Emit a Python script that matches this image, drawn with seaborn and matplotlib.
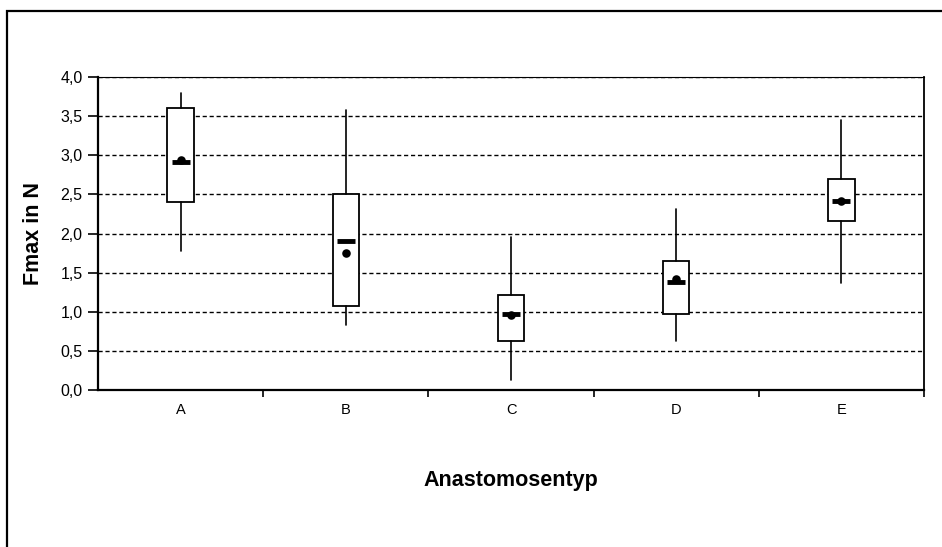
import matplotlib
matplotlib.use("Agg")
import matplotlib.pyplot as plt
import matplotlib.patches as mpatches
import pandas as pd
import seaborn as sns
from matplotlib.ticker import FixedLocator, FuncFormatter

# values
categories = ["A", "B", "C", "D", "E"]
whisker_low = [1.78, 0.83, 0.13, 0.62, 1.37]
box_low = [2.40, 1.07, 0.63, 0.97, 2.16]
median = [2.92, 1.90, 0.97, 1.38, 2.42]
mean = [2.94, 1.75, 0.96, 1.42, 2.42]
box_high = [3.60, 2.50, 1.22, 1.65, 2.70]
whisker_high = [3.80, 3.58, 1.95, 2.31, 3.45]
y_ticks = [0.0, 0.5, 1.0, 1.5, 2.0, 2.5, 3.0, 3.5, 4.0]

sns.set_theme(style="white")
plt.rcParams["font.family"] = ["Liberation Sans", "DejaVu Sans"]
plt.rcParams["text.color"] = "black"
plt.rcParams["axes.labelcolor"] = "black"
plt.rcParams["xtick.color"] = "black"
plt.rcParams["ytick.color"] = "black"

df = pd.DataFrame({"cat": categories, "pos": range(len(categories)),
                   "median": median, "mean": mean})

fig = plt.figure(figsize=(9.42, 5.47), dpi=100)
ax = fig.add_axes([98 / 942, 1 - 390 / 547, (924 - 98) / 942, (390 - 77) / 547])

# outer frame of the chart object
fig.patches.append(mpatches.Rectangle((7 / 942, -0.1), 1.2, 1 - 11 / 547 + 0.1,
                                      transform=fig.transFigure, fill=False,
                                      edgecolor="black", linewidth=1.6))

stats = []
for i, c in enumerate(categories):
    stats.append({"label": c, "whislo": whisker_low[i], "q1": box_low[i],
                  "med": median[i], "q3": box_high[i], "whishi": whisker_high[i],
                  "fliers": []})

ax.bxp(stats, positions=df["pos"], widths=0.16, showcaps=False, showfliers=False,
       patch_artist=True,
       boxprops=dict(facecolor="white", edgecolor="black", linewidth=1.3),
       whiskerprops=dict(color="black", linewidth=1.2),
       medianprops=dict(linewidth=0),
       zorder=3)

# median dash and mean dot
sns.scatterplot(data=df, x="pos", y="median", marker="_", s=180, color="black",
                linewidth=3.5, ax=ax, zorder=4)
sns.scatterplot(data=df, x="pos", y="mean", marker="o", s=38, color="black",
                edgecolor="black", linewidth=0, ax=ax, zorder=4)

ax.set_xlim(-0.5, len(categories) - 0.5)
ax.set_ylim(0, 4)
ax.yaxis.set_major_locator(FixedLocator(y_ticks))
ax.yaxis.set_major_formatter(FuncFormatter(lambda v, p: f"{v:.1f}".replace(".", ",")))
ax.set_xticks(df["pos"])
ax.set_xticklabels(categories)
ax.xaxis.set_minor_locator(FixedLocator([p + 0.5 for p in df["pos"]]))

ax.grid(False)
for yv in y_ticks[1:]:
    ax.axhline(yv, color="black", linewidth=1.0, linestyle=(0, (3, 2)), zorder=1)

for side in ["left", "bottom", "right", "top"]:
    ax.spines[side].set_visible(True)
    ax.spines[side].set_color("black")
ax.spines["left"].set_linewidth(1.6)
ax.spines["bottom"].set_linewidth(1.6)
ax.spines["right"].set_linewidth(1.3)
ax.spines["top"].set_linewidth(0.8)

ax.tick_params(axis="y", which="major", direction="out", length=7, width=1.2,
               color="black", labelsize=11.5, pad=4, left=True)
ax.tick_params(axis="x", which="major", length=0, labelsize=10.5, pad=9)
ax.tick_params(axis="x", which="minor", direction="out", length=5, width=1.2,
               color="black", bottom=True)

ax.set_xlabel("Anastomosentyp", fontsize=15.5, fontweight="bold", va="center")
ax.xaxis.set_label_coords(0.5, -0.288)
ax.set_ylabel("Fmax in N", fontsize=15.5, fontweight="bold", va="center")
ax.yaxis.set_label_coords(-0.078, 0.5)

fig.savefig("out.png", dpi=100)
